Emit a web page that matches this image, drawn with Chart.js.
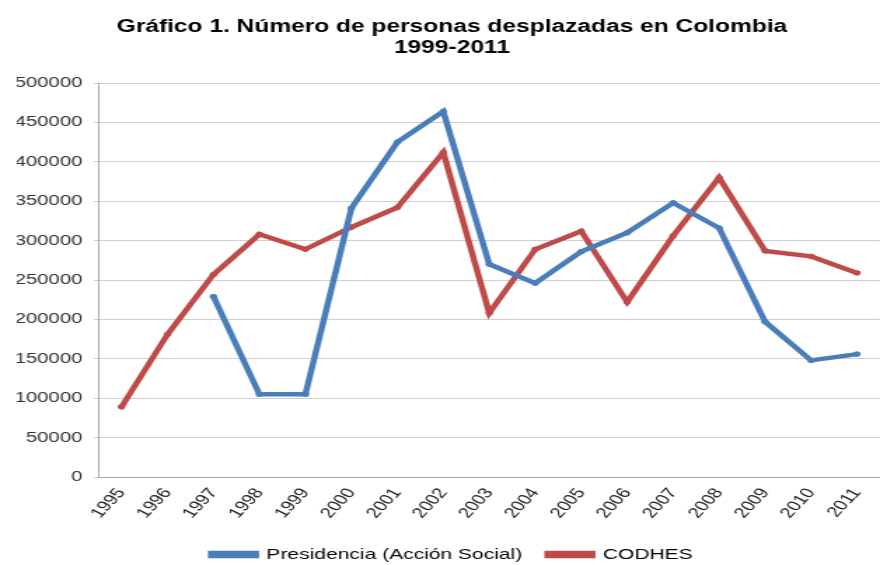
<!DOCTYPE html>
<html>
<head>
<meta charset="utf-8">
<script src="https://cdn.jsdelivr.net/npm/chart.js@4.4.0/dist/chart.umd.min.js"></script>
<style>
html,body{margin:0;padding:0;background:#fff;overflow:hidden;}
#wrap{width:880px;height:565px;position:relative;overflow:hidden;}
#c{position:absolute;left:0;top:0;transform-origin:0 0;transform:scaleX(1.4013);}
</style>
</head>
<body>
<div id="wrap"><canvas id="c" width="633" height="572"></canvas></div>
<script>
const years = ['1995','1996','1997','1998','1999','2000','2001','2002','2003','2004','2005','2006','2007','2008','2009','2010','2011'];
const presidencia = [null, null, 229000, 105000, 105000, 341000, 425000, 464000, 270000, 246000, 286000, 310000, 348000, 316000, 197000, 148000, 156000];
const codhes = [89000, 181000, 257000, 308000, 289000, 317000, 342000, 412000, 208000, 289000, 312000, 222000, 306000, 380000, 287000, 280000, 259000];
const yTicks = [0, 50000, 100000, 150000, 200000, 250000, 300000, 350000, 400000, 450000, 500000];
const seriesNames = ['Presidencia (Acción Social)', 'CODHES'];
const titleLines = ['Gráfico 1. Número de personas desplazadas en Colombia', '1999-2011'];

const blue = '#4a7ebb';
const red = '#be4b48';

new Chart(document.getElementById('c'), {
  type: 'line',
  data: {
    labels: years,
    datasets: [
      {label: seriesNames[0], data: presidencia, borderColor: blue, backgroundColor: blue, borderWidth: 4.5, pointRadius: 2.3, pointBackgroundColor: blue, pointBorderColor: blue, pointBorderWidth: 1, tension: 0, spanGaps: false},
      {label: seriesNames[1], data: codhes, borderColor: red, backgroundColor: red, borderWidth: 4.5, pointRadius: 2.3, pointBackgroundColor: red, pointBorderColor: red, pointBorderWidth: 1, tension: 0}
    ]
  },
  options: {
    responsive: false,
    animation: false,
    layout: {padding: {left: 12, right: 0, top: 0, bottom: 0}},
    plugins: {
      title: {
        display: true,
        text: titleLines,
        color: '#000',
        font: {family: 'Liberation Sans', size: 17.5, weight: 'bold', lineHeight: 1.23},
        padding: {top: 16, bottom: 24}
      },
      legend: {
        position: 'bottom',
        labels: {
          color: '#000',
          font: {family: 'Liberation Sans', size: 15},
          boxWidth: 32,
          boxHeight: 3,
          padding: 18
        }
      },
      tooltip: {enabled: false}
    },
    scales: {
      x: {
        offset: true,
        grid: {display: false, drawTicks: false},
        border: {color: '#a6a6a6', width: 1},
        afterFit: (s) => {
          s.height = 52;
          s.paddingLeft = 0;
          s.paddingRight = 0;
          s._computeLabelArea = () => undefined;
        },
        ticks: {
          color: '#222',
          font: {family: 'Liberation Sans', size: 14.5},
          maxRotation: 55, minRotation: 55,
          padding: 8
        }
      },
      y: {
        min: 0, max: 500000,
        afterBuildTicks: (axis) => { axis.ticks = yTicks.map(v => ({value: v})); },
        afterFit: (s) => { s.width = 58.3; },
        grid: {color: '#cfcfcf', lineWidth: 1, tickLength: 3.5},
        border: {color: '#a6a6a6', width: 1},
        ticks: {
          color: '#333',
          font: {family: 'Liberation Sans', size: 14.5},
          padding: 8,
          callback: (v) => String(v)
        }
      }
    }
  }
});
</script>
</body>
</html>
